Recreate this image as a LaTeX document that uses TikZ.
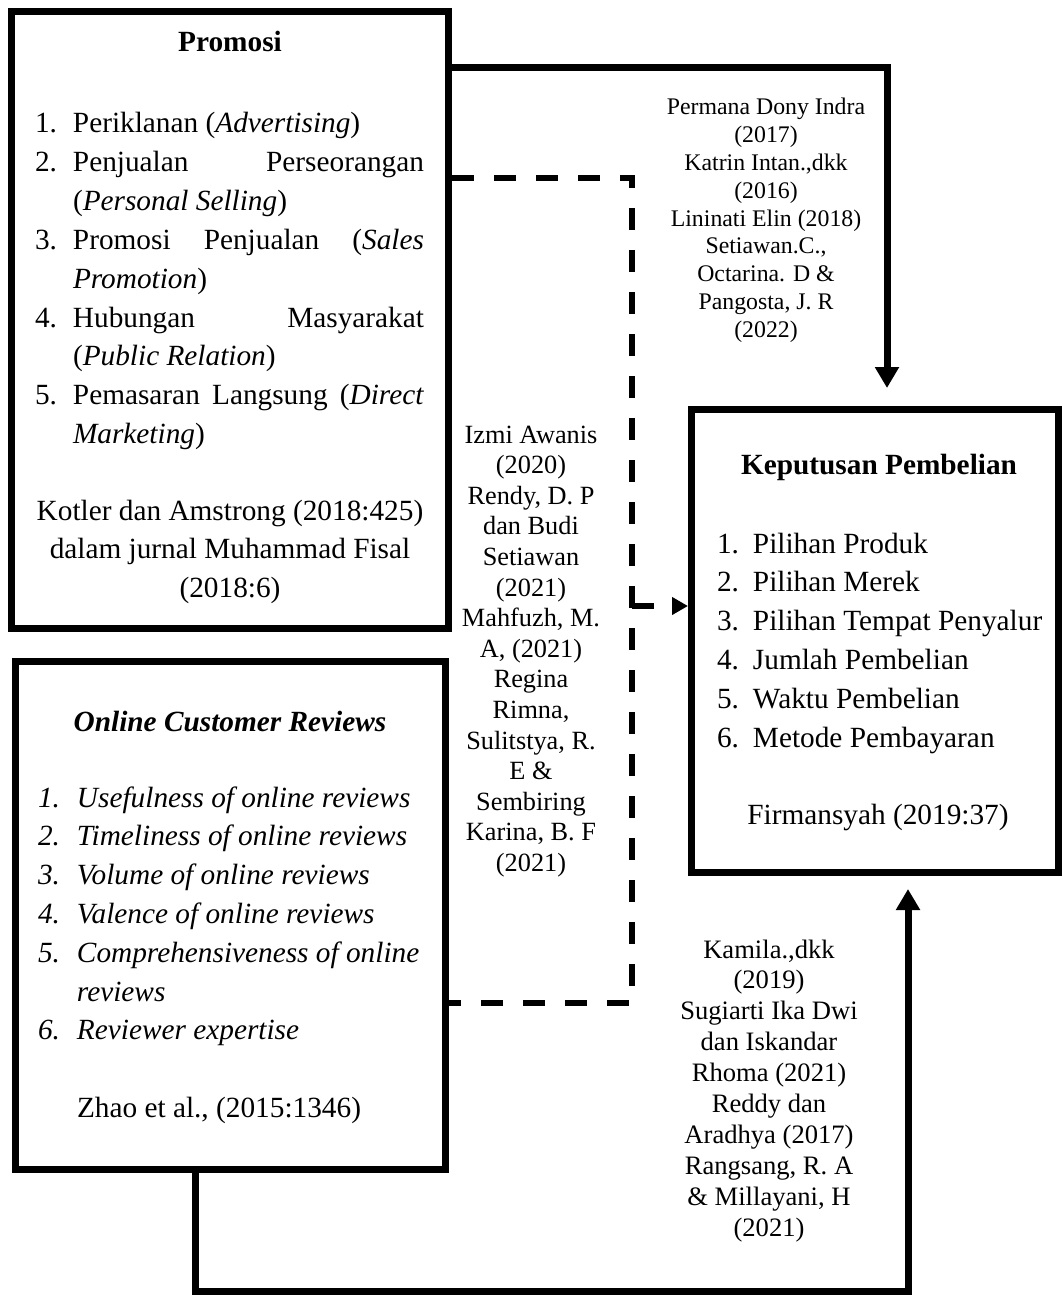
\documentclass[tikz,border=0pt]{standalone}
\usepackage{fontspec}
\setmainfont{Liberation Serif}
\usetikzlibrary{arrows.meta}
\newcommand\bxfont{\fontsize{14.65pt}{19.4pt}\selectfont}
\newcommand\reftop{\fontsize{11.9pt}{13.9pt}\selectfont}
\newcommand\refmid{\fontsize{13.15pt}{15.3pt}\selectfont}
\newcommand\refbot{\fontsize{13.3pt}{15.45pt}\selectfont}
\tikzset{
  box/.style={draw, line width=3.5pt, rectangle, inner sep=0pt},
  txt/.style={inner sep=0pt, outer sep=0pt},
  conn/.style={line width=3.5pt},
  dconn/.style={line width=3.2pt, dash pattern=on 11pt off 10pt},
  bigtip/.style={-{Triangle[length=10.5pt,width=11.5pt]}},
  smalltip/.style={-{Triangle[length=8pt,width=8.5pt]}}
}
\begin{document}
\begin{tikzpicture}[x=0.5pt,y=-0.5pt]
\useasboundingbox (0,0) rectangle (1062,1295);

% boxes
\node[box, minimum width=218.5pt, minimum height=308pt] (promosi) at (230,320) {};
\node[box, minimum width=215pt, minimum height=254pt] (ocr) at (230.5,915) {};
\node[box, minimum width=183.5pt, minimum height=231.5pt] (kep) at (875,640.5) {};

% Promosi text
\node[txt, anchor=base] (ptitle) at (230,52) {\bxfont\textbf{Promosi}};
\node[txt, anchor=base west] (plist) at (35,133) {\parbox[t]{200pt}{\bxfont
\makebox[19pt][l]{1.}Periklanan (\textit{Advertising})\\
\makebox[19pt][l]{2.}\makebox[175.5pt][s]{Penjualan Perseorangan}\\
\hspace*{19pt}(\textit{Personal Selling})\\
\makebox[19pt][l]{3.}\makebox[175.5pt][s]{Promosi Penjualan (\textit{Sales}}\\
\hspace*{19pt}\textit{Promotion})\\
\makebox[19pt][l]{4.}\makebox[175.5pt][s]{Hubungan Masyarakat}\\
\hspace*{19pt}(\textit{Public Relation})\\
\makebox[19pt][l]{5.}\makebox[175.5pt][s]{Pemasaran Langsung (\textit{Direct}}\\
\hspace*{19pt}\textit{Marketing})}};
\node[txt, anchor=base] (pref) at (230,520) {\parbox[t]{205pt}{\centering\bxfont
Kotler dan Amstrong (2018:425)\\
dalam jurnal Muhammad Fisal\\
(2018:6)}};

% Online Customer Reviews text
\node[txt, anchor=base] (otitle) at (230,731) {\bxfont\textbf{\textit{Online Customer Reviews}}};
\node[txt, anchor=base west] (olist) at (38,807) {\parbox[t]{200pt}{\bxfont\itshape
\makebox[19.5pt][l]{1.}Usefulness of online reviews\\
\makebox[19.5pt][l]{2.}Timeliness of online reviews\\
\makebox[19.5pt][l]{3.}Volume of online reviews\\
\makebox[19.5pt][l]{4.}Valence of online reviews\\
\makebox[19.5pt][l]{5.}Comprehensiveness of online\\
\hspace*{19.5pt}reviews\\
\makebox[19.5pt][l]{6.}Reviewer expertise}};
\node[txt, anchor=base west] (oref) at (77,1117) {\bxfont Zhao et al., (2015:1346)};

% Keputusan Pembelian text
\node[txt, anchor=base] (ktitle) at (879,474) {\bxfont\textbf{Keputusan Pembelian}};
\node[txt, anchor=base west] (klist) at (717,553) {\parbox[t]{170pt}{\bxfont
\makebox[18pt][l]{1.}Pilihan Produk\\
\makebox[18pt][l]{2.}Pilihan Merek\\
\makebox[18pt][l]{3.}Pilihan Tempat Penyalur\\
\makebox[18pt][l]{4.}Jumlah Pembelian\\
\makebox[18pt][l]{5.}Waktu Pembelian\\
\makebox[18pt][l]{6.}Metode Pembayaran}};
\node[txt, anchor=base] (kref) at (878,824) {\bxfont Firmansyah (2019:37)};

% citation labels
\node[txt, anchor=base] (cite1) at (766,115) {\parbox[t]{110pt}{\centering\reftop
Permana Dony Indra\\
(2017)\\
Katrin Intan.,dkk\\
(2016)\\
Lininati Elin (2018)\\
Setiawan.C.,\\
Octarina. D \&\\
Pangosta, J. R\\
(2022)}};
\node[txt, anchor=base] (cite2) at (531,443) {\parbox[t]{80pt}{\centering\refmid
Izmi Awanis\\
(2020)\\
Rendy, D. P\\
dan Budi\\
Setiawan\\
(2021)\\
Mahfuzh, M.\\
A, (2021)\\
Regina\\
Rimna,\\
Sulitstya, R.\\
E \&\\
Sembiring\\
Karina, B. F\\
(2021)}};
\node[txt, anchor=base] (cite3) at (769,958) {\parbox[t]{100pt}{\centering\refbot
Kamila.,dkk\\
(2019)\\
Sugiarti Ika Dwi\\
dan Iskandar\\
Rhoma (2021)\\
Reddy dan\\
Aradhya (2017)\\
Rangsang, R. A\\
\& Millayani, H\\
(2021)}};

% connectors
\coordinate (c1) at (887,68);
\coordinate (a1) at (887,388);
\draw[conn, bigtip] (promosi.east |- c1) -- (c1) -- (a1);

\coordinate (b1) at (195,1291);
\coordinate (b2) at (908,1291);
\coordinate (a2) at (908,889);
\draw[conn, bigtip] (ocr.south -| b1) -- (b1) -- (b2) -- (a2);

\coordinate (d1) at (632,178);
\coordinate (d2) at (632,1003);
\draw[dconn] (promosi.east |- d1) -- (d1) -- (d2) -- (ocr.east |- d2);
\coordinate (d3) at (632,606);
\draw[dconn, smalltip] (d3) -- (kep.west |- d3);
\end{tikzpicture}
\end{document}
